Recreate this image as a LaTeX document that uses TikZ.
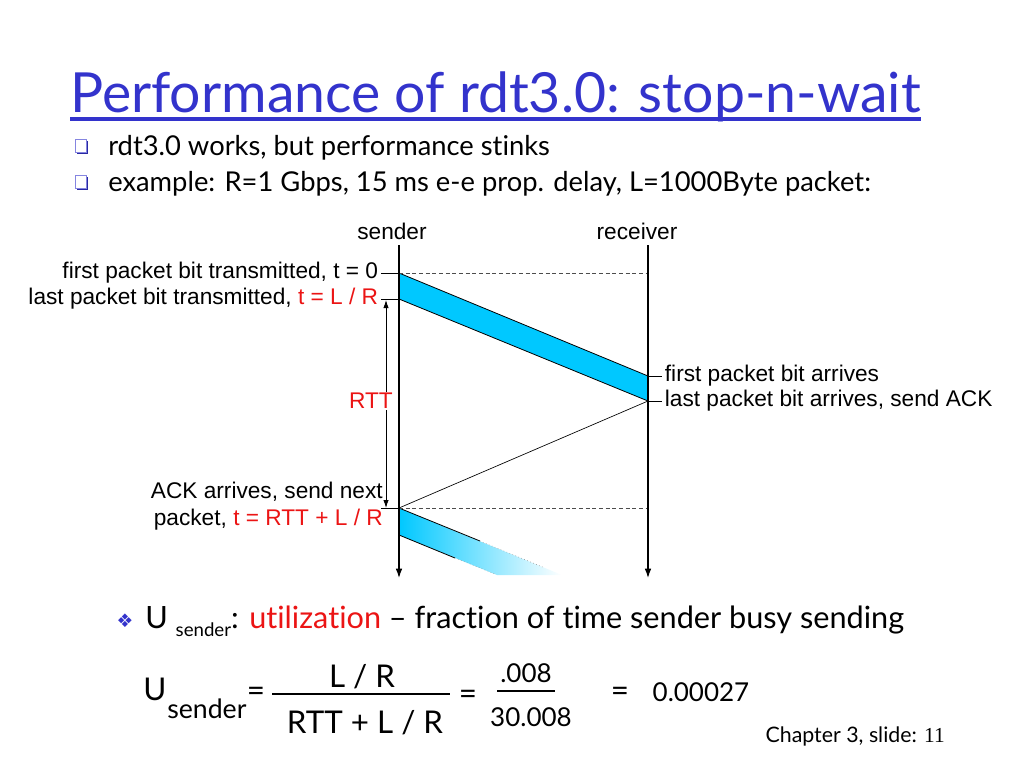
\documentclass[tikz,border=0pt]{standalone}
\usepackage{fontspec}
\setmainfont{Liberation Sans}
\newfontfamily\slidefont[Ligatures=NoCommon]{Lato}
\newfontfamily\dingfont{DejaVu Sans}
\newfontfamily\numfont{Liberation Serif}
\usetikzlibrary{positioning,arrows.meta,shadows}
\definecolor{titleblue}{RGB}{51,51,204}
\definecolor{pktcyan}{RGB}{0,200,255}
\definecolor{lblred}{RGB}{235,20,20}
\newcommand{\redt}[1]{\textcolor{lblred}{#1}}

\begin{document}
\begin{tikzpicture}[x=0.75pt,y=-0.75pt,
    timeline/.style={-{Latex[length=7pt,width=5pt]}, line width=0.9pt},
    rttarrow/.style={{Latex[length=6pt,width=4pt]}-{Latex[length=6pt,width=4pt]}, line width=0.6pt},
    guide/.style={gray!60!black, line width=0.5pt, dash pattern=on 3pt off 2pt}]
    % Text styles
    \tikzstyle{lbl} = [inner sep=0pt, font=\fontsize{17}{20}\selectfont]
    \tikzstyle{slide} = [inner sep=0pt, font=\slidefont\fontsize{20.5}{24}\selectfont]
    \tikzstyle{formula} = [inner sep=0pt, font=\slidefont\fontsize{23.5}{27}\selectfont]
    \tikzstyle{numtext} = [inner sep=0pt, font=\slidefont\fontsize{19.5}{23}\selectfont]
    \tikzstyle{sqbullet} = [draw=titleblue!60, fill=white, line width=0.7pt, minimum width=8.5pt, minimum height=10pt, inner sep=0pt,
        drop shadow={fill=titleblue!80!black, shadow xshift=1.2pt, shadow yshift=-1.2pt, opacity=1}]
    \tikzstyle{tick} = [line width=0.6pt]

    \useasboundingbox (0,0) rectangle (1024,768);

    % Title and bullets
    \node[inner sep=0pt, anchor=base west, text=titleblue, font=\slidefont\fontsize{41.5}{46}\selectfont] (title) at (70,112) {Performance of rdt3.0: stop-n-wait};
    \draw[titleblue, line width=3pt] ([yshift=-5pt]title.base west) -- ([yshift=-5pt]title.base east);
    \node[sqbullet] (sq1) at (81,146) {};
    \node[sqbullet] (sq2) at (81,182) {};
    \node[slide, anchor=base west] (b1) at (108,155) {rdt3.0 works, but performance stinks};
    \node[slide, anchor=base west] (b2) at (108,191) {example: R=1 Gbps, 15 ms e-e prop. delay, L=1000Byte packet:};

    % Time lines
    \node[lbl, anchor=base] (sender) at (392,239) {sender};
    \node[lbl, anchor=base] (receiver) at (637,239) {receiver};
    \coordinate (sTop) at (399,245);
    \coordinate (sBot) at (399,578);
    \coordinate (rTop) at (648,245);
    \coordinate (rBot) at (648,578);

    % Packet corners
    \coordinate (p1) at (399,273);
    \coordinate (p2) at (399,299);
    \coordinate (q1) at (648,376);
    \coordinate (q2) at (648,401);
    \coordinate (p3) at (399,508);
    \coordinate (p4) at (399,535);
    \coordinate (r1) at (648,273);
    \coordinate (r3) at (648,508);

    % First packet
    \filldraw[fill=pktcyan, draw=black, line width=0.6pt] (p1) -- (q1) -- (q2) -- (p2) -- cycle;

    % Next packet, fading out
    \shade[left color=pktcyan, right color=white] (p3) -- (562,575) -- (497,575) -- (p4) -- cycle;
    \draw[line width=0.6pt] (p3) -- (480,541);
    \draw[line width=0.4pt, dotted, gray] (480,541) -- (545,568);
    \draw[line width=0.6pt] (p4) -- (455,558);
    \draw[line width=0.4pt, dotted, gray] (455,558) -- (495,574);

    \draw[guide] (p1) -- (r1);
    \draw[guide] (p3) -- (r3);
    \draw[line width=0.5pt] (q2) -- (p3);

    \draw[timeline] (sTop) -- (sBot);
    \draw[timeline] (rTop) -- (rBot);

    % Sender side labels
    \coordinate (t1) at (381,273);
    \coordinate (t2) at (381,299);
    \coordinate (t3) at (381,508);
    \draw[tick] (t1) -- (p1);
    \draw[tick] (t2) -- (p2);
    \draw[tick] (t3) -- (p3);
    \node[lbl, left=2pt of t1] (l1) {first packet bit transmitted, t = 0};
    \node[lbl, left=2pt of t2] (l2) {last packet bit transmitted, \redt{t = L / R}};
    \node[lbl, anchor=east, align=right] (l3) at (383,506) {ACK arrives, send next\\packet, \redt{t = RTT + L / R}};

    % RTT
    \coordinate (rttTop) at (386,300);
    \coordinate (rttBot) at (386,508);
    \draw[rttarrow] (rttBot) -- (rttTop);
    \node[lbl, fill=white, inner sep=1pt, text=lblred] (rtt) at (371,401) {RTT};

    % Receiver side labels
    \coordinate (u1) at (662,376);
    \coordinate (u2) at (662,401);
    \draw[tick] (q1) -- (u1);
    \draw[tick] (q2) -- (u2);
    \node[lbl, right=2pt of u1] (m1) {first packet bit arrives};
    \node[lbl, right=2pt of u2] (m2) {last packet bit arrives, send ACK};

    % Utilization
    \node[text=titleblue, font=\dingfont\fontsize{14}{16}\selectfont] (dia) at (125,621) {❖};
    \node[slide, anchor=base west, font=\slidefont\fontsize{23}{27}\selectfont] (util) at (145,628) {U {\fontsize{14}{16}\selectfont\raisebox{-6pt}{sender}}: \redt{utilization} – fraction of time sender busy sending};

    % Formula
    \node[formula, anchor=base west] (uU) at (143,700) {U};
    \node[formula, anchor=base west, font=\slidefont\fontsize{20}{24}\selectfont] (uSub) at (167,718) {sender};
    \node[formula] (eq1) at (256,694) {=};
    \node[formula, anchor=base] (num1) at (362,687) {L / R};
    \node[formula, anchor=base] (den1) at (365,733) {RTT + L / R};
    \coordinate (bar1L) at (272,694);
    \coordinate (bar1R) at (450,694);
    \draw[line width=1.3pt] (bar1L) -- (bar1R);
    \node[formula] (eq2) at (468,697) {=};
    \node[numtext, anchor=base] (num2) at (526,682) {.008};
    \node[numtext, anchor=base] (den2) at (531,726) {30.008};
    \coordinate (bar2L) at (497,691);
    \coordinate (bar2R) at (555,691);
    \draw[line width=1.3pt] (bar2L) -- (bar2R);
    \node[formula] (eq3) at (620,694) {=};
    \node[numtext] (res) at (701,692) {0.00027};

    \node[anchor=base east, inner sep=0pt, font=\slidefont\fontsize{16}{19}\selectfont] (chap) at (945,742) {Chapter 3, slide: {\numfont 11}};
\end{tikzpicture}
\end{document}
